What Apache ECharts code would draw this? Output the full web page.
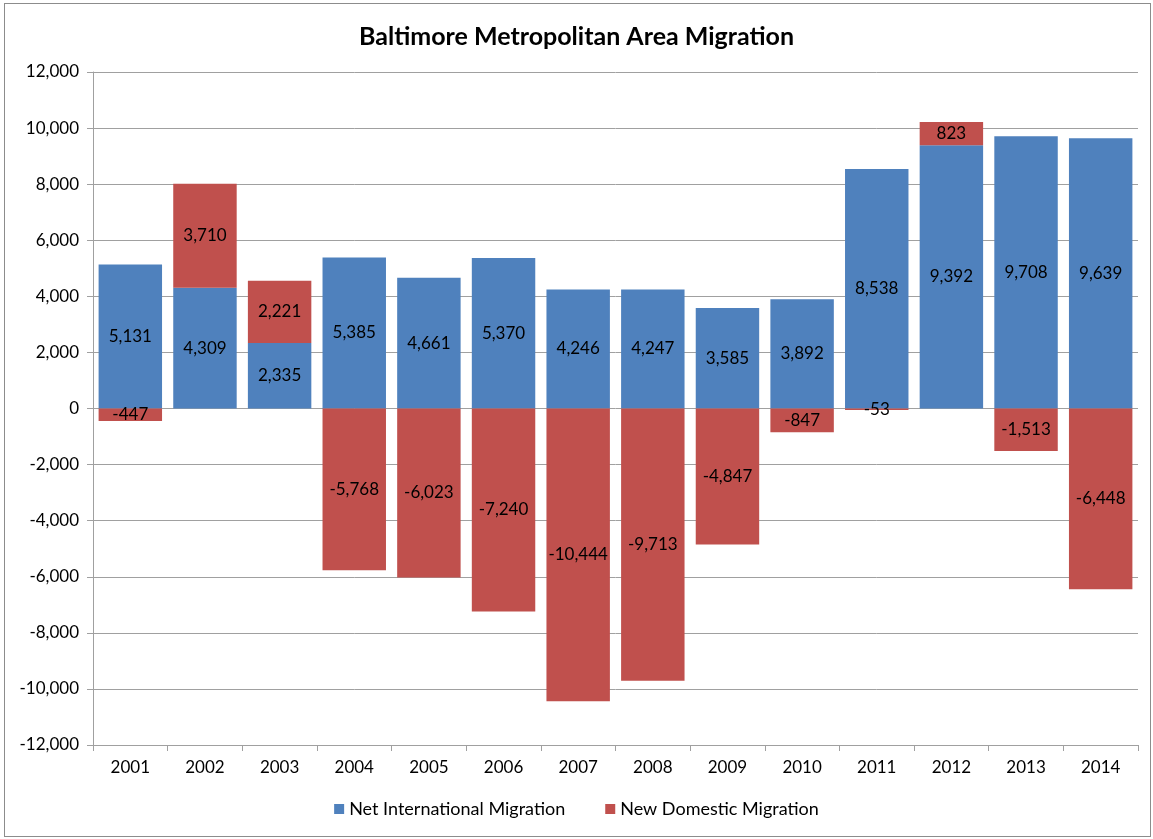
<!DOCTYPE html>
<html>
<head>
<meta charset="utf-8">
<script src="https://cdn.jsdelivr.net/npm/echarts@6/dist/echarts.min.js"></script>
<style>
  html, body { margin: 0; padding: 0; background: #fff; }
  #frame { position: absolute; left: 4px; top: 3px; width: 1145px; height: 832px; border: 1px solid #8c8c8c; }
  #main { position: absolute; left: 0; top: 0; width: 1153px; height: 839px; }
</style>
</head>
<body>
<div id="frame"></div>
<div id="main"></div>
<script>
// years on the x axis
const years = ['2001', '2002', '2003', '2004', '2005', '2006', '2007',
  '2008', '2009', '2010', '2011', '2012', '2013', '2014']
// net international migration
const intlMigration = [5131, 4309, 2335, 5385, 4661, 5370, 4246,
  4247, 3585, 3892, 8538, 9392, 9708, 9639]
// new domestic migration
const domesticMigration = [-447, 3710, 2221, -5768, -6023, -7240, -10444,
  -9713, -4847, -847, -53, 823, -1513, -6448]

const font = 'Lato, "Open Sans", sans-serif'

const labelOption = {
  show: true,
  position: 'inside',
  color: '#000',
  fontSize: 17,
  fontFamily: font,
  formatter: p => p.value.toLocaleString('en-US')
}

const chart = echarts.init(document.getElementById('main'))
chart.setOption({
  animation: false,
  title: {
    text: 'Baltimore Metropolitan Area Migration',
    left: 'center',
    top: 19,
    textStyle: { fontSize: 25, fontWeight: 'bold', color: '#000', fontFamily: font }
  },
  legend: {
    bottom: 16,
    left: 'center',
    itemWidth: 10,
    itemHeight: 10,
    itemGap: 40,
    icon: 'rect',
    textStyle: { fontSize: 18, color: '#000', fontFamily: font },
    data: ['Net International Migration', 'New Domestic Migration']
  },
  grid: { left: 93, right: 15, top: 72, bottom: 94 },
  xAxis: {
    type: 'category',
    data: years,
    axisLine: { onZero: false, lineStyle: { color: '#a0a0a0' } },
    axisTick: { show: true, length: 6, lineStyle: { color: '#a0a0a0' } },
    axisLabel: { fontSize: 17, color: '#000', fontFamily: font, margin: 14 }
  },
  yAxis: {
    type: 'value',
    min: -12000,
    max: 12000,
    interval: 2000,
    axisLine: { show: true, lineStyle: { color: '#a0a0a0' } },
    axisTick: { show: true, length: 6, lineStyle: { color: '#a0a0a0' } },
    axisLabel: {
      fontSize: 17, color: '#000', fontFamily: font, margin: 14,
      formatter: v => v.toLocaleString('en-US')
    },
    splitLine: { lineStyle: { color: '#a0a0a0' } }
  },
  series: [
    {
      name: 'Net International Migration',
      type: 'bar',
      stack: 'total',
      barCategoryGap: '15%',
      itemStyle: { color: '#4F81BD' },
      label: labelOption,
      data: intlMigration
    },
    {
      name: 'New Domestic Migration',
      type: 'bar',
      stack: 'total',
      itemStyle: { color: '#C0504D' },
      label: labelOption,
      data: domesticMigration
    }
  ]
})
</script>
</body>
</html>
